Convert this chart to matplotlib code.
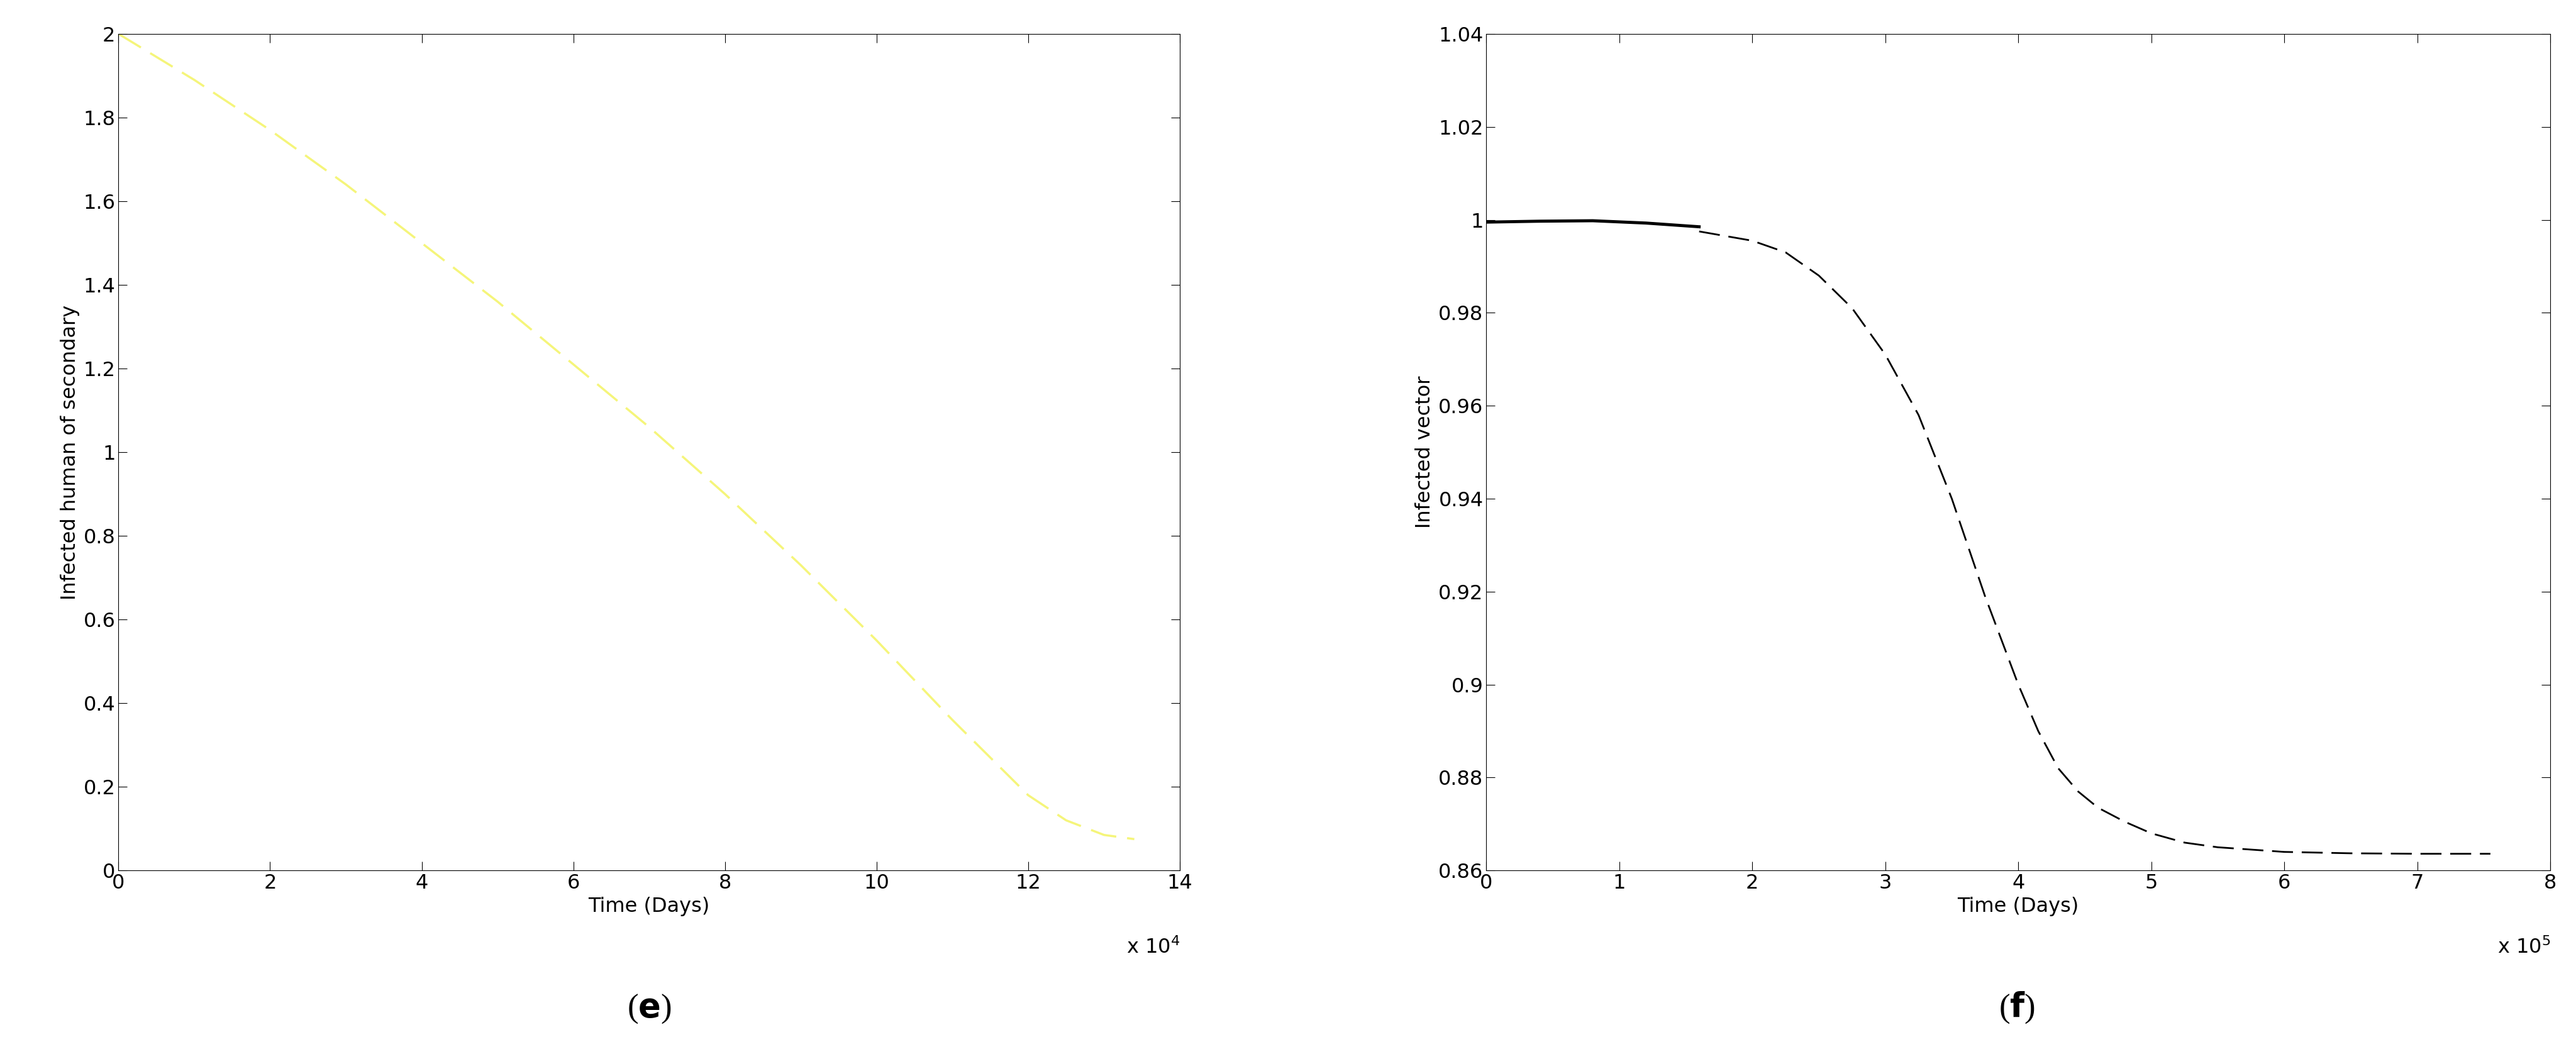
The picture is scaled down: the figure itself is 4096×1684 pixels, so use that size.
import matplotlib.pyplot as plt

# panel (e): infected human of secondary, time in units of 1e4 days
e_time = [0, 1, 2, 3, 4, 5, 6, 7, 8, 9, 10, 11, 12, 12.5, 13, 13.4]
e_infected = [2.0, 1.89, 1.77, 1.64, 1.50, 1.36, 1.21, 1.06, 0.90, 0.73, 0.55, 0.36, 0.18, 0.12, 0.085, 0.075]

# panel (f): infected vector, time in units of 1e5 days
f_time_early = [0, 0.4, 0.8, 1.2, 1.6]
f_infected_early = [0.9995, 0.9997, 0.9998, 0.9993, 0.9985]
f_time = [1.6, 2.0, 2.25, 2.5, 2.75, 3.0, 3.25, 3.5, 3.75, 4.0, 4.15, 4.3, 4.45, 4.6, 4.8, 5.0, 5.25, 5.5, 6.0, 6.5, 7.0, 7.55]
f_infected = [0.9975, 0.9955, 0.993, 0.988, 0.981, 0.971, 0.958, 0.940, 0.919, 0.900, 0.890, 0.882, 0.877, 0.8735, 0.8705, 0.868, 0.866, 0.865, 0.8640, 0.8637, 0.8636, 0.8636]

fig = plt.figure(figsize=(40.96, 16.84), dpi=100)
fs = 23

ax1 = fig.add_axes([0.046, 0.178, 0.412, 0.79])
ax1.plot(e_time, e_infected, color='#f5f57a', linestyle=(0, (12, 5)), linewidth=2.5)
ax1.set_xlim(0, 14)
ax1.set_ylim(0, 2)
ax1.set_xticks(range(0, 15, 2))
ax1.set_yticks([i / 10 for i in range(0, 21, 2)])
ax1.set_yticklabels(['0', '0.2', '0.4', '0.6', '0.8', '1', '1.2', '1.4', '1.6', '1.8', '2'])
ax1.set_xlabel('Time (Days)', fontsize=fs)
ax1.set_ylabel('Infected human of secondary', fontsize=fs)
ax1.text(1.0, -0.08, r'x 10$^4$', transform=ax1.transAxes, ha='right', va='top', fontsize=fs)

ax2 = fig.add_axes([0.577, 0.178, 0.413, 0.79])
ax2.plot(f_time_early, f_infected_early, color='black', linewidth=3.5)
ax2.plot(f_time, f_infected, color='black', linestyle=(0, (12, 5)), linewidth=2)
ax2.set_xlim(0, 8)
ax2.set_ylim(0.86, 1.04)
ax2.set_xticks(range(0, 9))
ax2.set_yticks([0.86, 0.88, 0.9, 0.92, 0.94, 0.96, 0.98, 1.0, 1.02, 1.04])
ax2.set_yticklabels(['0.86', '0.88', '0.9', '0.92', '0.94', '0.96', '0.98', '1', '1.02', '1.04'])
ax2.set_xlabel('Time (Days)', fontsize=fs)
ax2.set_ylabel('Infected vector', fontsize=fs)
ax2.text(1.0, -0.08, r'x 10$^5$', transform=ax2.transAxes, ha='right', va='top', fontsize=fs)

for ax in (ax1, ax2):
    ax.tick_params(labelsize=fs, direction='in', length=10, top=True, right=True)

fig.text(0.252, 0.04, r'($\mathbf{e}$)', ha='center', fontsize=38, family='Liberation Serif')
fig.text(0.783, 0.04, r'($\mathbf{f}$)', ha='center', fontsize=38, family='Liberation Serif')

fig.savefig('out.png', dpi=100)
